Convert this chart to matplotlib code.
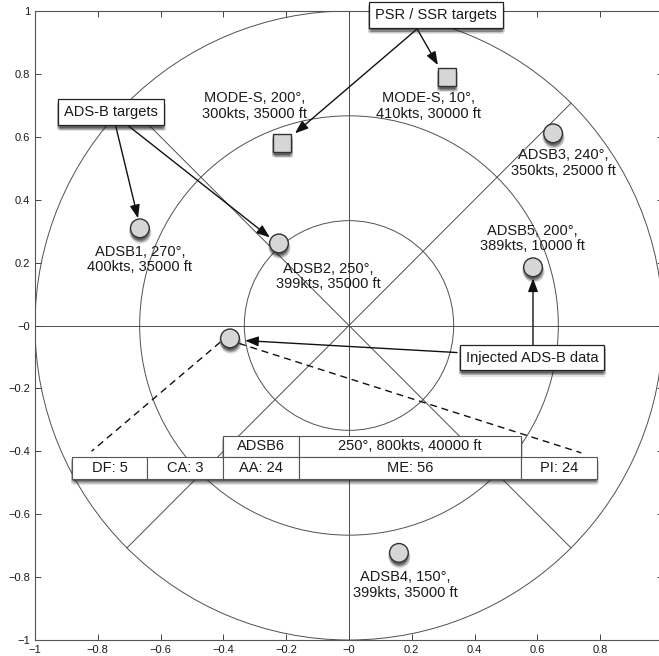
import matplotlib
matplotlib.use("Agg")
import matplotlib.pyplot as plt
import matplotlib.patheffects as pe
import numpy as np
from matplotlib.patches import Circle, Rectangle
from matplotlib.ticker import FuncFormatter

plt.rcParams["font.family"] = ["Liberation Sans", "DejaVu Sans"]

# targets: name, x, y, label
adsb_names = ["ADSB1", "ADSB2", "ADSB3", "ADSB4", "ADSB5"]
adsb_x = [-0.666, -0.223, 0.650, 0.159, 0.586]
adsb_y = [0.309, 0.261, 0.611, -0.723, 0.185]
adsb_labels = [
    "ADSB1, 270°,\n400kts, 35000 ft",
    "ADSB2, 250°,\n399kts, 35000 ft",
    "ADSB3, 240°,\n350kts, 25000 ft",
    "ADSB4, 150°,\n399kts, 35000 ft",
    "ADSB5, 200°,\n389kts, 10000 ft",
]
modes_x = [-0.213, 0.312]
modes_y = [0.580, 0.790]
modes_labels = ["MODE-S, 200°,\n300kts, 35000 ft", "MODE-S, 10°,\n410kts, 30000 ft"]

# injected target ADSB6
injected_x = -0.379
injected_y = -0.041

# range rings
ring_radii = [1 / 3, 2 / 3, 1.0]

# ADSB6 message fields
top_row = ["ADSB6", "250°, 800kts, 40000 ft"]
bottom_row = ["DF: 5", "CA: 3", "AA: 24", "ME: 56", "PI: 24"]

LINE = "#505050"
FILL = "#d6d6d6"
INK = "#1a1a1a"


def shadow():
    # layered offsets to fake a soft drop shadow
    fx = []
    for ox, oy, a in [(-1.0, -1.8, 0.20), (1.0, -1.8, 0.20), (0.0, -2.6, 0.25),
                      (1.5, -3.2, 0.18), (-0.6, -3.6, 0.14), (0.8, -4.4, 0.12)]:
        fx.append(pe.SimplePatchShadow(offset=(ox, oy), shadow_rgbFace="#202020",
                                       alpha=a))
    fx.append(pe.Normal())
    return fx


fig = plt.figure(figsize=(6.59, 6.56), dpi=100)
ax = fig.add_axes([35 / 659, 16 / 656, 628 / 659, 629 / 656])
ax.set_xlim(-1, 1)
ax.set_ylim(-1, 1)

# rings and crosshairs
for r in ring_radii:
    ax.add_patch(Circle((0, 0), r, fill=False, ec=LINE, lw=0.7, zorder=1))
ax.plot([-1, 1], [0, 0], color=LINE, lw=0.7, zorder=1)
ax.plot([0, 0], [-1, 1], color=LINE, lw=0.7, zorder=1)
d = np.sqrt(0.5)
ax.plot([-d, d], [-d, d], color=LINE, lw=0.7, zorder=1)
ax.plot([-d, d], [d, -d], color=LINE, lw=0.7, zorder=1)

# markers
ax.plot(adsb_x, adsb_y, "o", ms=13.5, mfc=FILL, mec="#333333", mew=1.0,
        zorder=5, path_effects=shadow())
ax.plot(modes_x, modes_y, "s", ms=13, mfc=FILL, mec="#333333", mew=1.0,
        zorder=5, path_effects=shadow())
ax.plot([injected_x], [injected_y], "o", ms=13.5, mfc=FILL, mec="#333333",
        mew=1.0, zorder=5, path_effects=shadow())

# target labels
adsb_label_pos = [(-0.666, 0.21), (-0.067, 0.156), (0.682, 0.516),
                  (0.178, -0.825), (0.583, 0.277)]
for (lx, ly), txt in zip(adsb_label_pos, adsb_labels):
    ax.text(lx, ly, txt, ha="center", va="center", fontsize=10.5,
            color=INK, linespacing=1.15, zorder=6)
modes_label_pos = [(-0.30, 0.697), (0.252, 0.697)]
for (lx, ly), txt in zip(modes_label_pos, modes_labels):
    ax.text(lx, ly, txt, ha="center", va="center", fontsize=10.5,
            color=INK, linespacing=1.15, zorder=6)

# callout arrows
arrow = dict(arrowstyle="-|>,head_length=0.8,head_width=0.3", color="#111111",
             lw=1.0, shrinkA=0, shrinkB=0, mutation_scale=10)
arrows = [
    ((-0.745, 0.643), (-0.672, 0.341)),
    ((-0.713, 0.643), (-0.252, 0.280)),
    ((0.217, 0.943), (0.283, 0.828)),
    ((0.217, 0.943), (-0.172, 0.611)),
    ((0.344, -0.086), (-0.331, -0.048)),
    ((0.586, -0.067), (0.586, 0.150)),
]
for start, end in arrows:
    ax.annotate("", xy=end, xytext=start, arrowprops=arrow, zorder=4)

# callout boxes
boxes = [
    ("ADS-B targets", (-0.758, 0.678)),
    ("PSR / SSR targets", (0.277, 0.987)),
    ("Injected ADS-B data", (0.583, -0.102)),
]
for txt, (bx, by) in boxes:
    t = ax.text(bx, by, txt, ha="center", va="center", fontsize=10.5, color=INK,
                zorder=8,
                bbox=dict(boxstyle="square,pad=0.4", fc="white", ec="#222222",
                          lw=0.9))
    t.get_bbox_patch().set_path_effects(shadow())

# dashed lines from injected target to message table
ax.plot([-0.41, -0.82], [-0.053, -0.40], ls=(0, (5, 3.5)), color="#111111",
        lw=1.0, zorder=3)
ax.plot([-0.35, 0.74], [-0.057, -0.405], ls=(0, (5, 3.5)), color="#111111",
        lw=1.0, zorder=3)

# message table
row_top = [-0.350, -0.417]
row_bot = [-0.417, -0.487]
top_edges = [-0.401, -0.159, 0.548]
bot_edges = [-0.882, -0.643, -0.401, -0.159, 0.548, 0.790]

outer_top = Rectangle((top_edges[0], row_top[1]), top_edges[-1] - top_edges[0],
                      row_top[0] - row_top[1], fc="white", ec="none", zorder=6)
outer_top.set_path_effects(shadow())
ax.add_patch(outer_top)
outer_bot = Rectangle((bot_edges[0], row_bot[1]), bot_edges[-1] - bot_edges[0],
                      row_bot[0] - row_bot[1], fc="white", ec="none", zorder=6)
outer_bot.set_path_effects(shadow())
ax.add_patch(outer_bot)

for i, txt in enumerate(top_row):
    x0, x1 = top_edges[i], top_edges[i + 1]
    ax.add_patch(Rectangle((x0, row_top[1]), x1 - x0, row_top[0] - row_top[1],
                           fc="white", ec="#555555", lw=0.8, zorder=7))
    ax.text((x0 + x1) / 2, sum(row_top) / 2, txt, ha="center", va="center",
            fontsize=10.5, color=INK, zorder=8)
for i, txt in enumerate(bottom_row):
    x0, x1 = bot_edges[i], bot_edges[i + 1]
    ax.add_patch(Rectangle((x0, row_bot[1]), x1 - x0, row_bot[0] - row_bot[1],
                           fc="white", ec="#555555", lw=0.8, zorder=7))
    ax.text((x0 + x1) / 2, sum(row_bot) / 2, txt, ha="center", va="center",
            fontsize=10.5, color=INK, zorder=8)

# axes styling
ticks = np.round(np.arange(-1, 1.01, 0.2), 1)
ax.set_xticks(ticks)
ax.set_yticks(ticks)
ax.xaxis.set_major_formatter(FuncFormatter(
    lambda v, _: "" if v > 0.99 else f"{v:g}".replace("-", "\u2212")))
ax.yaxis.set_major_formatter(FuncFormatter(
    lambda v, _: f"{v:g}".replace("-", "\u2212")))
ax.tick_params(direction="in", top=True, right=True, length=4, width=0.7,
               colors="#444444", labelsize=8, labelcolor=INK)
for s in ax.spines.values():
    s.set_color("#555555")
    s.set_linewidth(0.8)

fig.savefig("out.png", dpi=100)
